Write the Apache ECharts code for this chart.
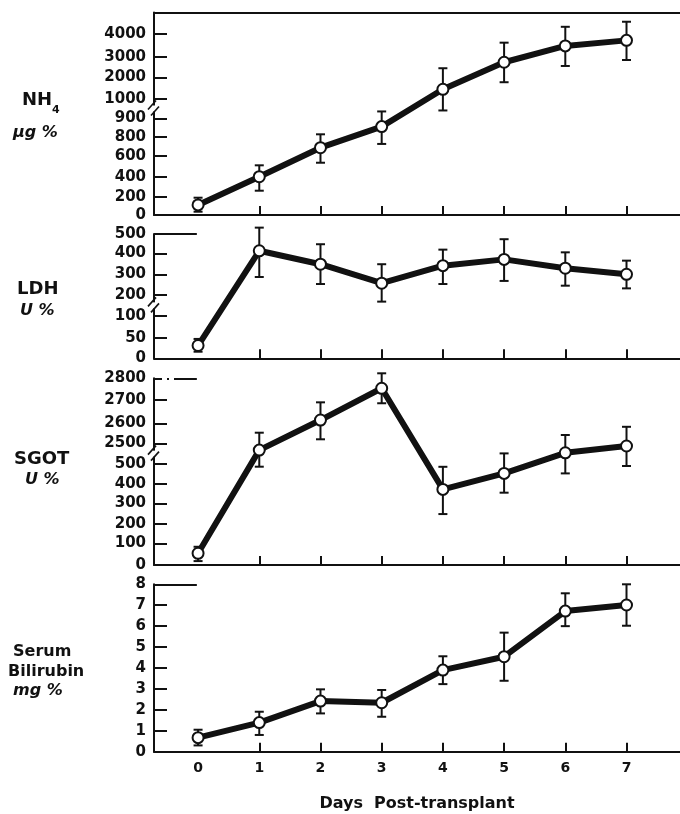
<!DOCTYPE html>
<html>
<head>
<meta charset="utf-8">
<script src="https://cdn.jsdelivr.net/npm/echarts@6/dist/echarts.min.js"></script>
<style>
  html, body { margin: 0; padding: 0; background: #fff; }
  #chart { width: 680px; height: 814px; }
</style>
</head>
<body>
<div id="chart"></div>
<script>
// days after transplant
var days = [0, 1, 2, 3, 4, 5, 6, 7];

// NH4 (ug %)
var nh4Mean = [110, 400, 686, 855, 1440, 2730, 3470, 3710];
var nh4Low  = [36, 260, 535, 725, 940, 1770, 2550, 2840];
var nh4High = [189, 510, 813, 935, 2440, 3610, 4300, 4520];
var nh4Ticks = [0, 200, 400, 600, 800, 900, 1000, 2000, 3000, 4000];

// LDH (U %)
var ldhMean = [31, 413, 348, 257, 341, 371, 329, 300];
var ldhLow  = [16, 287, 253, 168, 253, 268, 245, 232];
var ldhHigh = [47, 533, 447, 348, 419, 473, 405, 365];
var ldhTicks = [0, 50, 100, 200, 300, 400, 500];

// SGOT (U %)
var sgotMean = [54, 2466, 2614, 2754, 372, 453, 556, 590];
var sgotLow  = [18, 2383, 2520, 2686, 248, 355, 453, 490];
var sgotHigh = [84, 2553, 2690, 2823, 486, 553, 645, 686];
var sgotTicks = [0, 100, 200, 300, 400, 500, 2500, 2600, 2700, 2800];

// serum bilirubin (mg %)
var biliMean = [0.67, 1.39, 2.42, 2.34, 3.9, 4.54, 6.72, 7.01];
var biliLow  = [0.3, 0.8, 1.83, 1.67, 3.23, 3.39, 6.0, 6.02];
var biliHigh = [1.05, 1.91, 2.98, 2.95, 4.56, 5.69, 7.57, 8.0];
var biliTicks = [0, 1, 2, 3, 4, 5, 6, 7, 8];

var INK = '#111';
var FONT = 'DejaVu Sans';
var xMin = -0.72, xMax = 7.874;

// broken axes: tick heights (px above the baseline) drawn in the original
var panels = [
  { top: 12.5, height: 202.5, ticks: nh4Ticks,
    pos: [0, 18.3, 38.3, 59, 78.3, 96.7, 116.3, 137.7, 158.3, 181.3],
    breakIdx: 6, split: null, mean: nh4Mean, low: nh4Low, high: nh4High },
  { top: 234, height: 124.3, ticks: ldhTicks,
    pos: [0, 20.6, 42.6, 63.3, 84, 105, 124.3],
    breakIdx: 3, split: null, mean: ldhMean, low: ldhLow, high: ldhHigh },
  { top: 378.3, height: 186.7, ticks: sgotTicks,
    pos: [0, 21.7, 41, 61.7, 81, 101, 121.7, 141.7, 165, 186.7],
    breakIdx: 6, split: 1500, mean: sgotMean, low: sgotLow, high: sgotHigh },
  { top: 584.3, height: 167.4, ticks: biliTicks, pos: null,
    mean: biliMean, low: biliLow, high: biliHigh }
];

function makeScale(p) {
  if (!p.pos) return function (v) { return v; };
  return function (v) {
    var t = p.ticks, q = p.pos, lo = 0, hi = t.length - 1;
    if (p.split != null) {
      if (v < p.split) hi = p.breakIdx - 1; else lo = p.breakIdx;
    }
    var i = lo;
    while (i < hi - 1 && v > t[i + 1]) i++;
    return q[i] + (v - t[i]) * (q[i + 1] - q[i]) / (t[i + 1] - t[i]);
  };
}

function errorBar(params, api) {
  var x = api.value(0);
  var a = api.coord([x, api.value(1)]);
  var b = api.coord([x, api.value(2)]);
  var w = 4.5, st = { stroke: INK, lineWidth: 2 };
  return { type: 'group', children: [
    { type: 'line', shape: { x1: a[0], y1: a[1], x2: b[0], y2: b[1] }, style: st },
    { type: 'line', shape: { x1: a[0] - w, y1: a[1], x2: a[0] + w, y2: a[1] }, style: st },
    { type: 'line', shape: { x1: b[0] - w, y1: b[1], x2: b[0] + w, y2: b[1] }, style: st }
  ] };
}

function breakMark(params, api) {
  var c = api.coord([api.value(0), api.value(1)]);
  var cx = c[0], cy = c[1];
  var st = { stroke: INK, lineWidth: 1.6 };
  return { type: 'group', children: [
    { type: 'rect', shape: { x: cx - 3, y: cy - 3, width: 6, height: 6 }, style: { fill: '#fff' } },
    { type: 'line', shape: { x1: cx - 6, y1: cy + 1, x2: cx + 2, y2: cy - 8 }, style: st },
    { type: 'line', shape: { x1: cx - 3, y1: cy + 7, x2: cx + 5, y2: cy - 2 }, style: st }
  ] };
}

var grids = [], xAxes = [], yAxes = [], series = [];

panels.forEach(function (p, k) {
  var sc = makeScale(p);
  grids.push({ left: 154, right: 0, top: p.top, height: p.height, containLabel: false, outerBoundsMode: 'none' });

  xAxes.push({
    type: 'value', gridIndex: k, min: xMin, max: xMax,
    axisLine: { onZero: false, lineStyle: { color: INK, width: 2 } },
    axisTick: { inside: true, length: 9, lineStyle: { color: INK, width: 2 }, customValues: [1, 2, 3, 4, 5, 6, 7] },
    axisLabel: { show: k === 3, customValues: days, margin: 10, color: INK, fontFamily: FONT, fontWeight: 'bold', fontSize: 14 },
    splitLine: { show: false },
    name: k === 3 ? 'Days  Post-transplant' : '',
    nameLocation: 'middle', nameGap: 44,
    nameTextStyle: { color: INK, fontFamily: FONT, fontWeight: 'bold', fontSize: 16 }
  });

  var yTickVals = p.pos ? p.pos : p.ticks;
  // the top value of the lower three panels gets a longer line instead of a tick
  var tickMarks = k > 0 ? yTickVals.slice(0, -1) : yTickVals;
  yAxes.push({
    type: 'value', gridIndex: k,
    min: 0, max: p.pos ? p.height : 8,
    axisLine: { show: true, onZero: false, lineStyle: { color: INK, width: 2 } },
    axisTick: { show: true, inside: true, length: 13, lineStyle: { color: INK, width: 2 }, customValues: tickMarks },
    axisLabel: {
      customValues: yTickVals, margin: 8, color: INK, fontFamily: FONT, fontWeight: 'bold', fontSize: 15,
      formatter: function (v) {
        if (!p.pos) return String(v);
        var best = 0;
        for (var i = 0; i < p.pos.length; i++) if (Math.abs(p.pos[i] - v) < Math.abs(p.pos[best] - v)) best = i;
        return String(p.ticks[best]);
      }
    },
    splitLine: { show: false }
  });

  var topVal = p.pos ? p.height : 8;
  var lineSeries = {
    type: 'line', xAxisIndex: k, yAxisIndex: k, z: 4,
    data: days.map(function (d, i) { return [d, sc(p.mean[i])]; }),
    lineStyle: { color: INK, width: 6 },
    symbol: 'circle', symbolSize: 11,
    itemStyle: { color: '#fff', borderColor: INK, borderWidth: 2 },
    animation: false
  };
  if (k > 0) {
    lineSeries.markLine = {
      silent: true, symbol: ['none', 'none'], label: { show: false },
      lineStyle: { color: INK, width: 2, type: k === 2 ? [8, 5, 2, 5, 30, 20] : 'solid' },
      data: [[{ coord: [xMin, topVal] }, { coord: [-0.02, topVal] }]],
      animation: false
    };
  }
  series.push(lineSeries);

  series.push({
    type: 'custom', xAxisIndex: k, yAxisIndex: k, z: 3,
    renderItem: errorBar,
    data: days.map(function (d, i) { return [d, sc(p.low[i]), sc(p.high[i])]; }),
    animation: false
  });

  if (p.pos) {
    var bpos = (p.pos[p.breakIdx - 1] + p.pos[p.breakIdx]) / 2;
    series.push({
      type: 'custom', xAxisIndex: k, yAxisIndex: k, z: 5, clip: false, silent: true,
      renderItem: breakMark,
      data: [[xMin, bpos]],
      animation: false
    });
  }
});

// top frame of the NH4 panel
xAxes.push({
  type: 'value', gridIndex: 0, min: xMin, max: xMax, position: 'top',
  axisLine: { onZero: false, lineStyle: { color: INK, width: 2 } },
  axisTick: { show: false }, axisLabel: { show: false }, splitLine: { show: false }
});

function txt(x, y, s, size, italic) {
  return { type: 'text', left: x, top: y - size / 2 - 1,
    style: { text: s, fill: INK, font: (italic ? 'italic ' : '') + 'bold ' + size + 'px "DejaVu Sans"' } };
}

var mycharts = echarts.init(document.getElementById('chart'));
var option = {
  backgroundColor: '#fff',
  animation: false,
  grid: grids,
  xAxis: xAxes,
  yAxis: yAxes,
  series: series,
  graphic: [
    txt(22, 101, 'NH', 18),
    txt(52, 111, '4', 11),
    txt(13, 134, 'µg %', 16, true),
    txt(17, 290, 'LDH', 18),
    txt(20, 312, 'U %', 16, true),
    txt(14, 460, 'SGOT', 18),
    txt(25, 481, 'U %', 16, true),
    txt(13, 653, 'Serum', 16),
    txt(8, 673, 'Bilirubin', 16),
    txt(13, 692, 'mg %', 16, true)
  ]
};
mycharts.setOption(option);
</script>
</body>
</html>
